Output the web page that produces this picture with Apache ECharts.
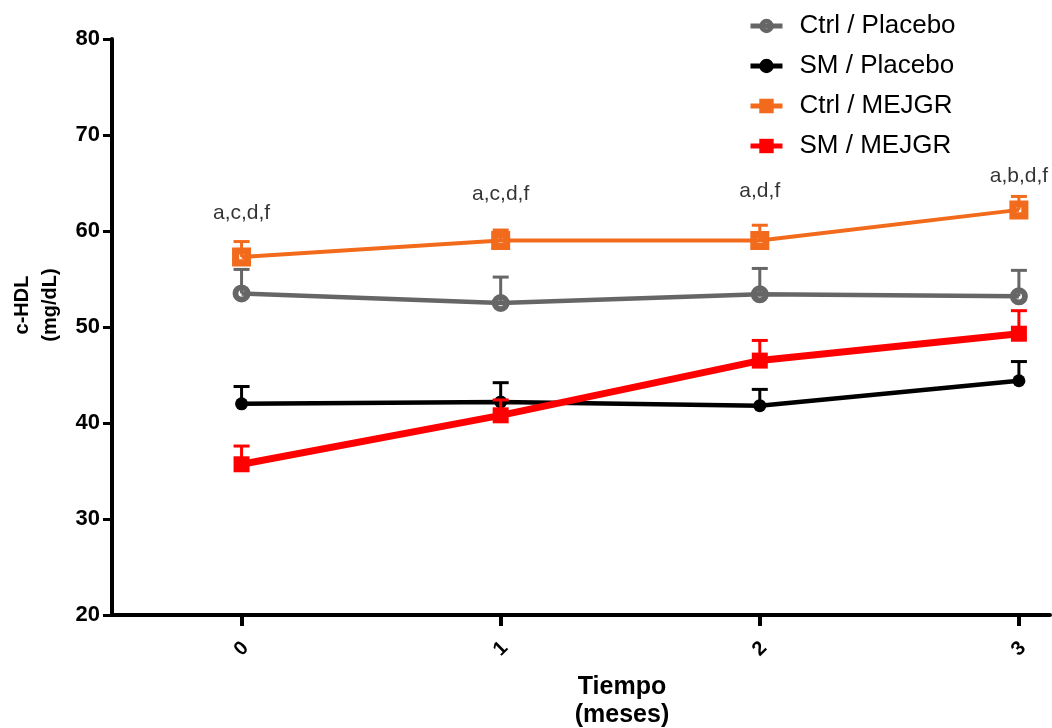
<!DOCTYPE html>
<html>
<head>
<meta charset="utf-8">
<script src="https://cdn.jsdelivr.net/npm/echarts@6/dist/echarts.min.js"></script>
<style>html,body{margin:0;padding:0;background:#fff}#c{width:1052px;height:728px}</style>
</head>
<body>
<div id="c"></div>
<script>
const xValues = [0, 1, 2, 3];
const xTickLabels = ['0', '1', '2', '3'];
const seriesNames = ['Ctrl / Placebo', 'SM / Placebo', 'Ctrl / MEJGR', 'SM / MEJGR'];
const ctrlPlacebo = [53.5, 52.5, 53.4, 53.2];
const ctrlPlaceboUpper = [56.0, 55.2, 56.1, 55.9];
const smPlacebo = [42.0, 42.2, 41.8, 44.4];
const smPlaceboUpper = [43.8, 44.2, 43.5, 46.4];
const ctrlMejgr = [57.3, 59.0, 59.0, 62.2];
const ctrlMejgrUpper = [58.9, 60.1, 60.6, 63.6];
const smMejgr = [35.7, 40.8, 46.5, 49.3];
const smMejgrUpper = [37.6, 42.4, 48.6, 51.7];
const annotText = ['a,c,d,f', 'a,c,d,f', 'a,d,f', 'a,b,d,f'];
const annotY = [61.9, 63.8, 64.1, 65.7];

const FONT = 'Liberation Sans, Arial, sans-serif';
const RING = 'path://M20,10 A10,10 0 1,1 0,10 A10,10 0 1,1 20,10 Z M13.5,10 A3.5,3.5 0 1,0 6.5,10 A3.5,3.5 0 1,0 13.5,10 Z';
const HOLLOW_SQ = 'path://M0,0 L20,0 L20,20 L0,20 Z M7.5,7.5 L7.5,12.5 L12.5,12.5 L12.5,7.5 Z';
const styles = [
  { color: '#666666', symbol: RING, size: 18, width: 4.5 },
  { color: '#000000', symbol: 'circle', size: 13, width: 4.5 },
  { color: '#F26A1B', symbol: HOLLOW_SQ, size: 19, width: 4 },
  { color: '#FF0000', symbol: 'rect', size: 16, width: 7 }
];
const means = [ctrlPlacebo, smPlacebo, ctrlMejgr, smMejgr];
const uppers = [ctrlPlaceboUpper, smPlaceboUpper, ctrlMejgrUpper, smMejgrUpper];

function errSeries(i) {
  const st = styles[i];
  return {
    type: 'custom',
    name: seriesNames[i] + ' err',
    z: 2 + i * 2,
    silent: true,
    data: xValues.map((x, k) => [x, means[i][k], uppers[i][k]]),
    renderItem: function (params, api) {
      const p0 = api.coord([api.value(0), api.value(1)]);
      const p1 = api.coord([api.value(0), api.value(2)]);
      const hw = 8;
      return {
        type: 'group',
        children: [
          { type: 'line', shape: { x1: p0[0], y1: p0[1], x2: p1[0], y2: p1[1] }, style: { stroke: st.color, lineWidth: 3 } },
          { type: 'line', shape: { x1: p1[0] - hw, y1: p1[1], x2: p1[0] + hw, y2: p1[1] }, style: { stroke: st.color, lineWidth: 3 } }
        ]
      };
    }
  };
}

function lineSeries(i) {
  const st = styles[i];
  return {
    type: 'line',
    name: seriesNames[i],
    z: 3 + i * 2,
    data: xValues.map((x, k) => [x, means[i][k]]),
    symbol: st.symbol,
    symbolSize: st.size,
    showAllSymbol: true,
    lineStyle: { color: st.color, width: st.width },
    itemStyle: { color: st.color, borderWidth: 0 },
    emphasis: { disabled: true }
  };
}

const series = [];
for (let i = 0; i < 4; i++) { series.push(errSeries(i)); series.push(lineSeries(i)); }
series.push({
  type: 'scatter',
  name: 'annot',
  symbolSize: 1,
  itemStyle: { color: 'rgba(0,0,0,0)' },
  silent: true,
  data: xValues.map((x, k) => ({ value: [x, annotY[k]], label: { formatter: annotText[k] } })),
  label: { show: true, position: 'inside', color: '#000', fontSize: 21, fontFamily: FONT }
});

const chart = echarts.init(document.getElementById('c'), null, { renderer: 'canvas' });
chart.setOption({
  animation: false,
  backgroundColor: '#ffffff',
  grid: { left: 112, right: 2, top: 39, bottom: 113, containLabel: false, outerBoundsMode: 'none' },
  legend: {
    orient: 'vertical',
    left: 743,
    top: 8,
    itemWidth: 32,
    itemHeight: 18,
    itemGap: 14,
    data: seriesNames,
    lineStyle: { width: 5 },
    textStyle: { fontSize: 26, color: '#000', fontFamily: FONT, padding: [0, 0, 0, 12] },
    selectedMode: false
  },
  xAxis: {
    type: 'value',
    min: -0.5,
    max: 3.12,
    name: 'Tiempo\n(meses)',
    nameLocation: 'middle',
    nameGap: 58,
    nameTextStyle: { fontSize: 25, fontWeight: 'bold', color: '#000', fontFamily: FONT, lineHeight: 28, padding: [0, 0, 0, 82] },
    axisLine: { show: true, onZero: false, lineStyle: { color: '#000', width: 4 } },
    axisTick: { show: true, customValues: xValues, length: 11, lineStyle: { color: '#000', width: 4 } },
    axisLabel: {
      customValues: xValues,
      formatter: function (v) { return xTickLabels[xValues.indexOf(v)]; },
      rotate: 45,
      align: 'center',
      verticalAlign: 'middle',
      margin: 34,
      fontSize: 20,
      fontWeight: 'bold',
      color: '#000',
      fontFamily: FONT
    },
    splitLine: { show: false }
  },
  yAxis: {
    type: 'value',
    min: 20,
    max: 80,
    interval: 10,
    name: 'c-HDL\n(mg/dL)',
    nameLocation: 'middle',
    nameGap: 47,
    nameTextStyle: { fontSize: 20, fontWeight: 'bold', color: '#000', fontFamily: FONT, lineHeight: 28, padding: [0, 0, 0, 44] },
    axisLine: { show: true, onZero: false, lineStyle: { color: '#000', width: 4 } },
    axisTick: { show: true, length: 9, lineStyle: { color: '#000', width: 3 } },
    axisLabel: { fontSize: 22, fontWeight: 'bold', color: '#000', fontFamily: FONT, margin: 12 },
    splitLine: { show: false }
  },
  series: series
});
</script>
</body>
</html>
